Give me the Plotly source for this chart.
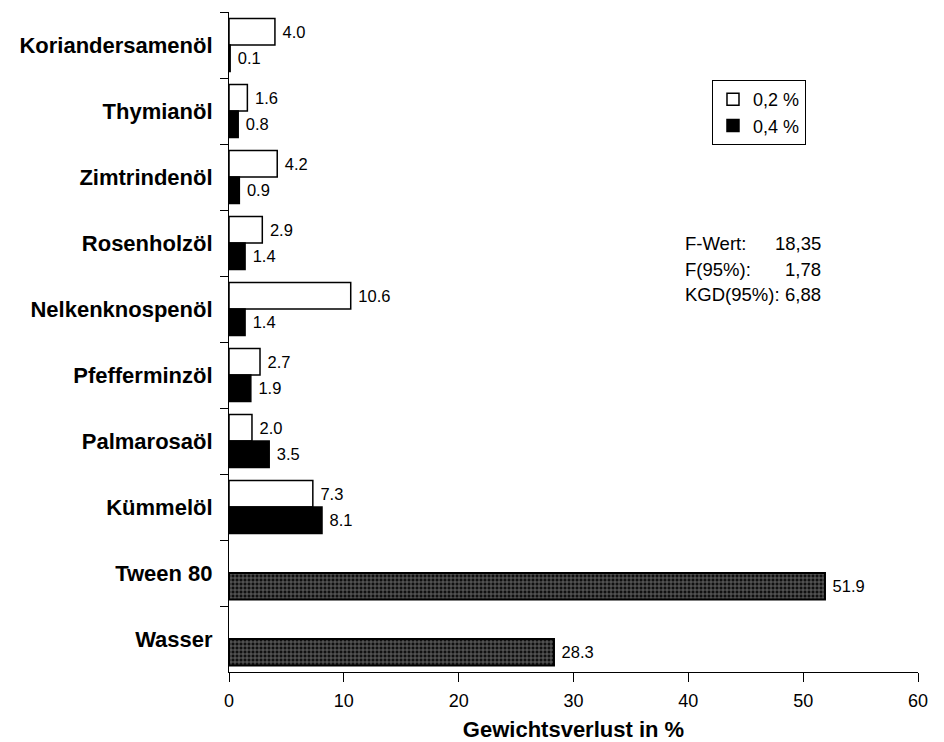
import plotly.graph_objects as go

categories = ["Koriandersamenöl", "Thymianöl", "Zimtrindenöl", "Rosenholzöl",
              "Nelkenknospenöl", "Pfefferminzöl", "Palmarosaöl", "Kümmelöl"]
vals_02 = [4.0, 1.6, 4.2, 2.9, 10.6, 2.7, 2.0, 7.3]
vals_04 = [0.1, 0.8, 0.9, 1.4, 1.4, 1.9, 3.5, 8.1]
controls = ["Tween 80", "Wasser"]
vals_controls = [51.9, 28.3]
all_cats = categories + controls

x_ticks = [0, 10, 20, 30, 40, 50, 60]
stat_labels = ["F-Wert:", "F(95%):", "KGD(95%):"]
stat_values = ["18,35", "1,78", "6,88"]

FONT = "Liberation Sans, Arial, sans-serif"
TXT = dict(size=16.5, color="black", family=FONT)

fig = go.Figure()
fig.add_trace(go.Bar(
    y=categories, x=vals_02, orientation="h", name="0,2 %", offsetgroup="a",
    marker=dict(color="white", line=dict(color="black", width=1.5)),
    texttemplate=" %{x:.1f}", textposition="outside", constraintext="none",
    textfont=TXT, outsidetextfont=TXT, cliponaxis=False))
fig.add_trace(go.Bar(
    y=categories, x=vals_04, orientation="h", name="0,4 %", offsetgroup="b",
    marker=dict(color="black", line=dict(color="black", width=1.5)),
    texttemplate=" %{x:.1f}", textposition="outside", constraintext="none",
    textfont=TXT, outsidetextfont=TXT, cliponaxis=False))
fig.add_trace(go.Bar(
    y=controls, x=vals_controls, orientation="h", name="Kontrolle", offsetgroup="b",
    showlegend=False,
    marker=dict(color="#303030", line=dict(color="black", width=2),
                pattern=dict(shape="+", size=4, solidity=0.4,
                             fgcolor="#c8c8c8", bgcolor="#101010")),
    texttemplate=" %{x:.1f}", textposition="outside", constraintext="none",
    textfont=TXT, outsidetextfont=TXT, cliponaxis=False))

n = len(all_cats)
for i, (lab, val) in enumerate(zip(stat_labels, stat_values)):
    yy = 0.6486 - i * 0.038
    fig.add_annotation(x=0.659, y=yy, xref="paper", yref="paper", text=lab,
                       showarrow=False, xanchor="left", yanchor="middle",
                       font=dict(size=18.5, color="black", family=FONT))
    fig.add_annotation(x=0.862, y=yy, xref="paper", yref="paper", text=val,
                       showarrow=False, xanchor="right", yanchor="middle",
                       font=dict(size=18.5, color="black", family=FONT))

fig.update_layout(
    width=936, height=734,
    margin=dict(l=221, r=26, t=4, b=70),
    paper_bgcolor="white", plot_bgcolor="white",
    barmode="group", bargap=0.2, bargroupgap=0.0,
    font=dict(family=FONT, color="black"),
    legend=dict(x=0.701, y=0.897, xanchor="left", yanchor="top",
                bordercolor="black", borderwidth=1, bgcolor="white",
                font=dict(size=18, color="black", family=FONT),
                itemwidth=30, tracegroupgap=0),
    xaxis=dict(range=[0, 60], tickvals=x_ticks, ticks="outside", ticklen=9,
               tickcolor="black", showline=True, linecolor="black", linewidth=1,
               showgrid=False, zeroline=False, ticklabelstandoff=3, automargin=False,
               tickfont=dict(size=18, color="black", family=FONT),
               title=dict(text="<b>Gewichtsverlust in %</b>", standoff=15,
                          font=dict(size=22, color="black", family=FONT))),
    yaxis=dict(categoryorder="array", categoryarray=all_cats, autorange="reversed",
               tickson="boundaries", ticks="outside", ticklen=8, tickcolor="black",
               showline=True, linecolor="black", linewidth=1, showgrid=False,
               zeroline=False, ticklabelstandoff=11, automargin=False,
               tickfont=dict(size=22, color="black", family=FONT),
               tickprefix="<b>", ticksuffix="</b>"),
    xaxis2=dict(overlaying="x", anchor="y", side="bottom", range=[0, 60],
                tickvals=x_ticks, ticks="inside", ticklen=9, tickcolor="black",
                showticklabels=False, showline=False, showgrid=False, zeroline=False),
    yaxis2=dict(overlaying="y", anchor="x", side="left", range=[n - 0.5, -0.5],
                tick0=0.5, dtick=1, ticks="inside", ticklen=8, tickcolor="black",
                showticklabels=False, showline=False, showgrid=False, zeroline=False),
)

fig.write_html("out.html")
